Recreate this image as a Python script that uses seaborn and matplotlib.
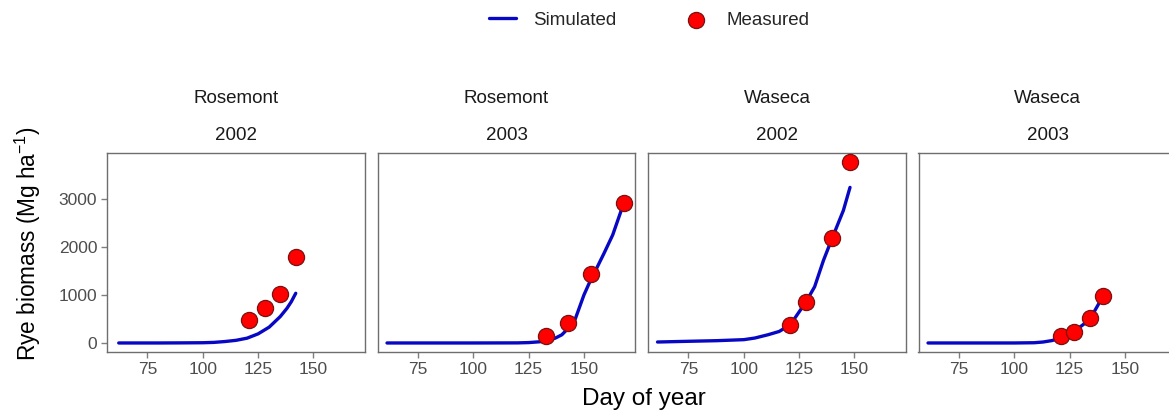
import seaborn as sns
import matplotlib.pyplot as plt
import pandas as pd

# Panels (site, year)
sites = ['Rosemont', 'Rosemont', 'Waseca', 'Waseca']
years = ['2002', '2003', '2002', '2003']

# Simulated biomass (day of year, Mg ha-1 as labelled)
sim_day = [
    [62, 80, 90, 100, 105, 110, 115, 120, 125, 130, 135, 138, 140, 142],
    [61, 80, 100, 120, 125, 130, 133, 137, 140, 143, 146, 150, 153, 156, 159, 163, 167],
    [61, 75, 88, 100, 105, 111, 116, 121, 128, 132, 136, 140, 145, 148],
    [61, 80, 100, 109, 113, 117, 121, 127, 134, 140],
]
sim_bio = [
    [0, 0, 2, 5, 12, 30, 55, 100, 190, 330, 550, 720, 860, 1035],
    [0, 0, 0, 2, 8, 25, 48, 100, 170, 310, 490, 1000, 1310, 1580, 1860, 2250, 2780],
    [20, 35, 48, 69, 103, 172, 240, 379, 848, 1170, 1720, 2190, 2760, 3240],
    [0, 0, 0, 5, 20, 50, 103, 240, 482, 965],
]

# Measured biomass
obs_day = [
    [121, 128, 135, 142],
    [133, 143, 153, 168],
    [121, 128, 140, 148],
    [121, 127, 134, 140],
]
obs_bio = [
    [476, 725, 1030, 1790],
    [151, 420, 1428, 2923],
    [379, 848, 2193, 3772],
    [151, 220, 517, 985],
]

sim = pd.concat([pd.DataFrame({'panel': i, 'day': d, 'biomass': b})
                 for i, (d, b) in enumerate(zip(sim_day, sim_bio))])
obs = pd.concat([pd.DataFrame({'panel': i, 'day': d, 'biomass': b})
                 for i, (d, b) in enumerate(zip(obs_day, obs_bio))])

sns.set_style('white', {'xtick.bottom': True, 'ytick.left': True})
plt.rcParams['font.family'] = ['Liberation Sans', 'DejaVu Sans']
plt.rcParams['mathtext.fontset'] = 'custom'
plt.rcParams['mathtext.rm'] = 'Liberation Sans'
plt.rcParams['mathtext.it'] = 'Liberation Sans:italic'

W, H = 1169, 413
fig = plt.figure(figsize=(W / 100, H / 100), dpi=100)

lefts = [107, 377.5, 648, 918.5]
pw, top, bottom = 258, 153, 352

grey = '#4d4d4d'
for i, left in enumerate(lefts):
    ax = fig.add_axes([left / W, (H - bottom) / H, pw / W, (bottom - top) / H])
    sns.lineplot(data=sim[sim.panel == i], x='day', y='biomass', ax=ax,
                 color='#0808c4', linewidth=2.4, label='Simulated', legend=False)
    sns.scatterplot(data=obs[obs.panel == i], x='day', y='biomass', ax=ax,
                    color='#ff0000', edgecolor='#7a1010', linewidth=0.9,
                    s=135, zorder=3, label='Measured', legend=False)
    ax.set_xlim(56.7, 173.3)
    ax.set_ylim(-188, 3956)
    ax.set_xticks([75, 100, 125, 150])
    ax.set_yticks([0, 1000, 2000, 3000])
    ax.set_xlabel('')
    ax.set_ylabel('')
    ax.tick_params(axis='both', colors='#7f7f7f', labelcolor=grey,
                   labelsize=12.5, length=4, width=1, pad=3)
    if i > 0:
        ax.tick_params(axis='y', left=False, labelleft=False)
    for sp in ax.spines.values():
        sp.set_color('#6e6e6e')
        sp.set_linewidth(1)
    ax.text(0.5, 1.065, years[i], transform=ax.transAxes, ha='center',
            va='baseline', fontsize=13.5, color='#1a1a1a')
    ax.text(0.5, 1.251, sites[i], transform=ax.transAxes, ha='center',
            va='baseline', fontsize=13.5, color='#1a1a1a')
    if i == 0:
        handles, labels = ax.get_legend_handles_labels()

fig.legend(handles, labels, loc='center', bbox_to_anchor=(649 / W, 1 - 20 / H),
           ncol=2, frameon=False, fontsize=13.5, handlelength=1.45,
           columnspacing=3.5, handletextpad=0.9)

fig.text(28 / W, 1 - 244 / H, 'Rye biomass (Mg ha$^{-1}$)', rotation=90,
         ha='center', va='center', fontsize=16.3, color='black')
fig.text(644 / W, 1 - 399 / H, 'Day of year', ha='center', va='center',
         fontsize=17.5, color='black')

fig.savefig('out.png', dpi=100)
